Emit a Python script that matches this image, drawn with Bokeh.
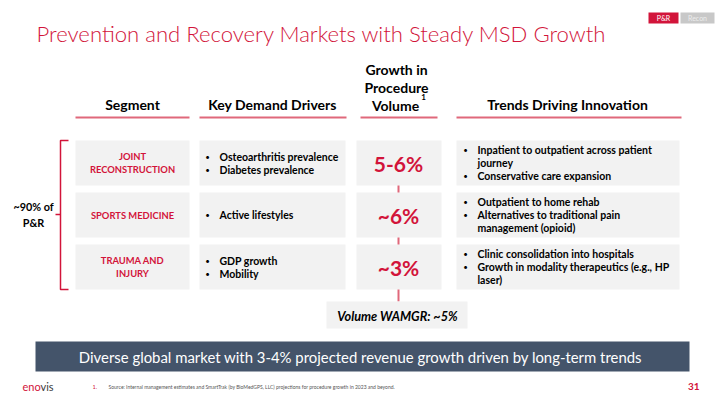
from bokeh.plotting import figure
from bokeh.models import ColumnDataSource, Range1d
from bokeh.core.properties import value
from bokeh.embed import file_html
from bokeh.resources import INLINE

# ---------------- data ----------------
title = "Prevention and Recovery Markets with Steady MSD Growth"
headers = ["Segment", "Key Demand Drivers", "Trends Driving Innovation"]
growth_header = ["Growth in", "Procedure", "Volume"]
segments = [["JOINT", "RECONSTRUCTION"], ["SPORTS MEDICINE"], ["TRAUMA AND", "INJURY"]]
drivers = [[["Osteoarthritis prevalence"], ["Diabetes prevalence"]],
           [["Active lifestyles"]],
           [["GDP growth"], ["Mobility"]]]
growth = ["5-6%", "~6%", "~3%"]
trends = [[["Inpatient to outpatient across patient", "journey"], ["Conservative care expansion"]],
          [["Outpatient to home rehab"], ["Alternatives to traditional pain", "management (opioid)"]],
          [["Clinic consolidation into hospitals"], ["Growth in modality therapeutics (e.g., HP", "laser)"]]]
share_label = ["~90% of", "P&R"]
wamgr = "Volume WAMGR: ~5%"
banner = "Diverse global market with 3-4% projected revenue growth driven by long-term trends"
footnote = "Source: Internal management estimates and SmartTrak (by BioMedGPS, LLC) projections for procedure growth in 2023 and beyond."
page_no = "31"
tabs = ["P&R", "Recon"]

RED = "#D2143A"
LINE = "#E0687B"
BOX = "#F2F2F2"
FONT = "Lato"

p = figure(width=720, height=405, output_backend="svg", toolbar_location=None,
           x_range=Range1d(0, 720), y_range=Range1d(405, 0), min_border=0)
p.axis.visible = False
p.grid.visible = False
p.outline_line_color = None
p.background_fill_color = "white"
p.border_fill_color = "white"


def txt(xs, ys, texts, size, color="black", style="bold", align="center", baseline="middle", font=FONT):
    src = ColumnDataSource(dict(x=xs, y=ys, t=texts))
    p.text(x="x", y="y", text="t", source=src, text_font=value(font), text_font_size=f"{size}px",
           text_color=color, text_font_style=style, text_align=align, text_baseline=baseline)


def boxes(lefts, rights, tops, bottoms, colors):
    if isinstance(colors, str):
        colors = [colors] * len(lefts)
    src = ColumnDataSource(dict(l=lefts, r=rights, t=tops, b=bottoms, c=colors))
    p.quad(left="l", right="r", top="t", bottom="b", source=src, fill_color="c", line_color=None)


# title and tabs
txt([36], [33], [title], 22.1, color=RED, style="normal", align="left", font="'Lato Light', Lato")
boxes([648, 680], [678, 714], [12, 12], [23, 23], [RED, "#C8C8C8"])
src = ColumnDataSource(dict(x=[663, 697], y=[17.5, 17.5], t=tabs, c=["white", "#EDEDED"]))
p.text(x="x", y="y", text="t", source=src, text_font=value(FONT), text_font_size="7px",
       text_color="c", text_align="center", text_baseline="middle")

# column geometry
col_l = [75, 199, 356, 456]
col_r = [189, 345, 441, 679]
row_t = [140, 192, 244]
row_b = [185, 237, 289]
row_c = [(a + b) / 2 for a, b in zip(row_t, row_b)]

# headers
txt([132, 272, 567], [104, 104, 104], headers, 14)
txt([396, 396, 395], [69, 87, 105], growth_header, 14)
txt([423], [96], ["1"], 8)
p.segment(x0=col_l[0:2] + [360, 456], x1=[189, 346, 437, 681], y0=[117] * 4, y1=[117] * 4,
          line_color=LINE, line_width=2)

# row boxes
for i in range(3):
    boxes(col_l, col_r, [row_t[i]] * 4, [row_b[i]] * 4, BOX)

# connectors
p.segment(x0=[398] * 3, x1=[398] * 3, y0=[185, 237, 289], y1=[192, 244, 301], line_color=LINE, line_width=2)

LH = 13
for i in range(3):
    # segment names
    n = len(segments[i])
    ys = [row_c[i] + (k - (n - 1) / 2) * LH for k in range(n)]
    txt([132] * n, ys, segments[i], 9.4, color=RED)
    # drivers
    lines = [(j, ln) for j, b in enumerate(drivers[i]) for ln in b]
    n = len(lines)
    ys = [row_c[i] + (k - (n - 1) / 2) * LH for k in range(n)]
    bx = [ys[k] for k in range(n) if k == 0 or lines[k][0] != lines[k - 1][0]]
    txt([207] * len(bx), bx, ["•"] * len(bx), 8, align="center", style="normal")
    txt([219] * n, ys, [ln for _, ln in lines], 10.5, align="left")
    # growth
    txt([398], [row_c[i]], [growth[i]], 21, color=RED)
    # trends
    lines = [(j, ln) for j, b in enumerate(trends[i]) for ln in b]
    n = len(lines)
    ys = [row_c[i] + (k - (n - 1) / 2) * LH for k in range(n)]
    bx = [ys[k] for k in range(n) if k == 0 or lines[k][0] != lines[k - 1][0]]
    txt([465] * len(bx), bx, ["•"] * len(bx), 8, align="center", style="normal")
    txt([477] * n, ys, [ln for _, ln in lines], 10.5, align="left")

# bracket
p.multi_line(xs=[[68, 60, 60, 68], [60, 55]], ys=[[140, 140, 289, 289], [214, 214]], line_color=RED, line_width=1.5)
txt([33, 33], [206, 222], share_label, 10.8)

# WAMGR
boxes([326], [467], [301], [328], BOX)
txt([397], [315], [wamgr], 12.7, style="bold italic")

# banner
boxes([35], [689], [341], [371], "#44546A")
txt([360], [356.5], [banner], 14.9, color="white", style="normal")

# footer
txt([22], [386], ["eno"], 11, color=RED, style="normal", align="left")
txt([40], [386], ["vis"], 11, color="#3A3A3A", style="normal", align="left")
txt([92], [386], ["1."], 5.5, color=RED, style="normal", align="left")
txt([108], [386], [footnote], 5, color="#555555", style="normal", align="left")
txt([699], [386], [page_no], 10, color=RED, align="right")

open("out.html", "w").write(file_html(p, INLINE))
